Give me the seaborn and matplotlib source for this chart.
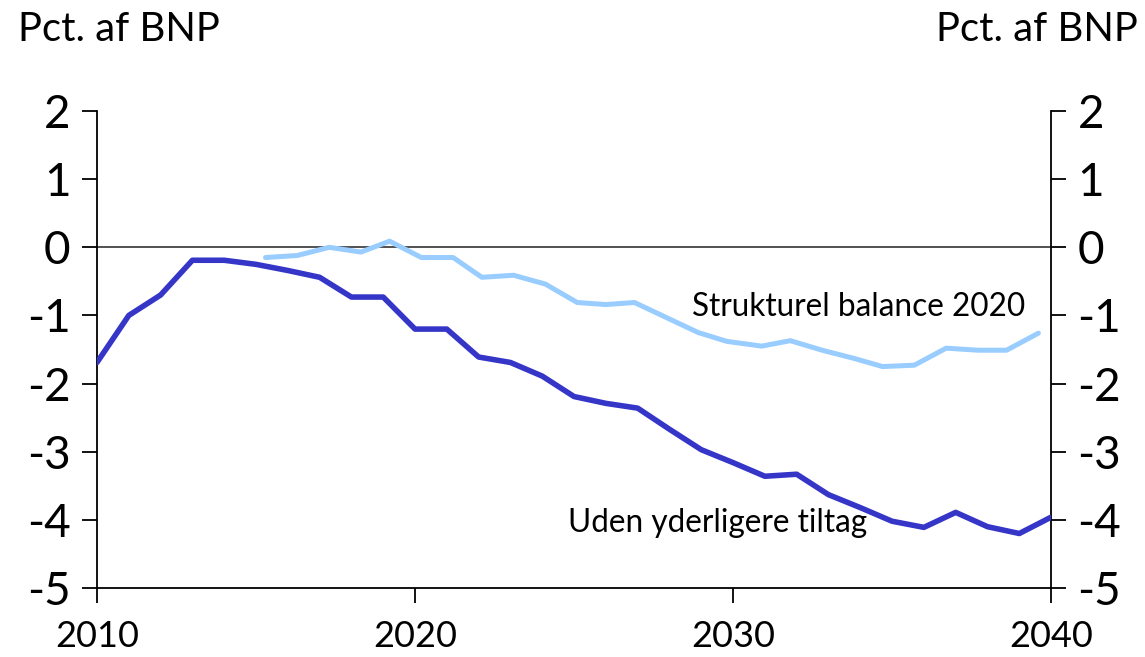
import numpy as np
import pandas as pd
import matplotlib
matplotlib.use("Agg")
import matplotlib.pyplot as plt
import seaborn as sns

# Uden yderligere tiltag (dark line), yearly 2010-2040
years_dark = list(range(2010, 2041))
vals_dark = [-1.69, -1.00, -0.70, -0.19, -0.19, -0.25, -0.34, -0.44, -0.73, -0.73,
             -1.20, -1.20, -1.61, -1.69, -1.89, -2.19, -2.29, -2.36, -2.67, -2.97,
             -3.16, -3.36, -3.33, -3.63, -3.82, -4.02, -4.11, -3.89, -4.10, -4.20,
             -3.96]

# Strukturel balance 2020 (light line), positions
years_light = [2015.3, 2016.3, 2017.3, 2018.3, 2019.2, 2020.2, 2021.2, 2022.1, 2023.1,
               2024.1, 2025.1, 2026.0, 2026.9, 2027.9, 2028.9, 2029.8, 2030.9, 2031.8,
               2032.8, 2033.8, 2034.7, 2035.7, 2036.7, 2037.7, 2038.6, 2039.6]
vals_light = [-0.15, -0.12, 0.00, -0.07, 0.09, -0.15, -0.15, -0.44, -0.41, -0.54,
              -0.81, -0.84, -0.81, -1.03, -1.25, -1.38, -1.45, -1.37, -1.51, -1.63,
              -1.75, -1.73, -1.48, -1.51, -1.51, -1.26]

yticks = [2, 1, 0, -1, -2, -3, -4, -5]
xticks = [2010, 2020, 2030, 2040]

sns.set_style("ticks")
plt.rcParams['font.family'] = ['Lato', 'DejaVu Sans']
plt.rcParams['text.color'] = 'black'
plt.rcParams['xtick.color'] = 'black'
plt.rcParams['ytick.color'] = 'black'
plt.rcParams['xtick.labelcolor'] = 'black'
plt.rcParams['ytick.labelcolor'] = 'black'

fig = plt.figure(figsize=(11.45, 6.57), dpi=100)
ax = fig.add_axes([0.0847, 0.105, 0.8333, 0.726])

ax.axhline(0, color="#333333", lw=1.2, zorder=1)
sns.lineplot(x=years_dark, y=vals_dark, ax=ax, color="#3535C8", lw=4.0, zorder=3)
sns.lineplot(x=years_light, y=vals_light, ax=ax, color="#99CCFF", lw=3.6, zorder=2)

ax.set_xlim(2010, 2040)
ax.set_ylim(-5, 2)
ax.set_xticks(xticks)
ax.set_yticks(yticks)
ax.set_yticklabels([str(v) for v in yticks])

for side in ['left', 'right', 'bottom']:
    ax.spines[side].set(lw=1.3, color="black")
ax.spines['top'].set_visible(False)
ax.spines['right'].set_visible(True)

ax.tick_params(axis="y", direction="out", length=11, width=1.3, labelsize=33, pad=8)
ax.tick_params(axis="x", direction="out", length=11, width=1.3, labelsize=26, pad=12)

ax2 = ax.twinx()
ax2.set_ylim(-5, 2)
ax2.set_yticks(yticks)
ax2.set_yticklabels([str(v) for v in yticks])
ax2.tick_params(axis="y", direction="out", length=11, width=1.3, labelsize=33, pad=8)
for side in ['left', 'right', 'bottom', 'top']:
    ax2.spines[side].set_visible(False)

ax.text(2028.7, -0.88, "Strukturel balance 2020", fontsize=22.7, va="center", ha="left")
ax.text(2024.8, -4.04, "Uden yderligere tiltag", fontsize=22.7, va="center", ha="left")

fig.text(0.016, 0.955, "Pct. af BNP", fontsize=28.8, ha="left", va="center")
fig.text(0.994, 0.955, "Pct. af BNP", fontsize=28.8, ha="right", va="center")

ax.set_xlabel("")
ax.set_ylabel("")

fig.savefig("out.png", dpi=100)
